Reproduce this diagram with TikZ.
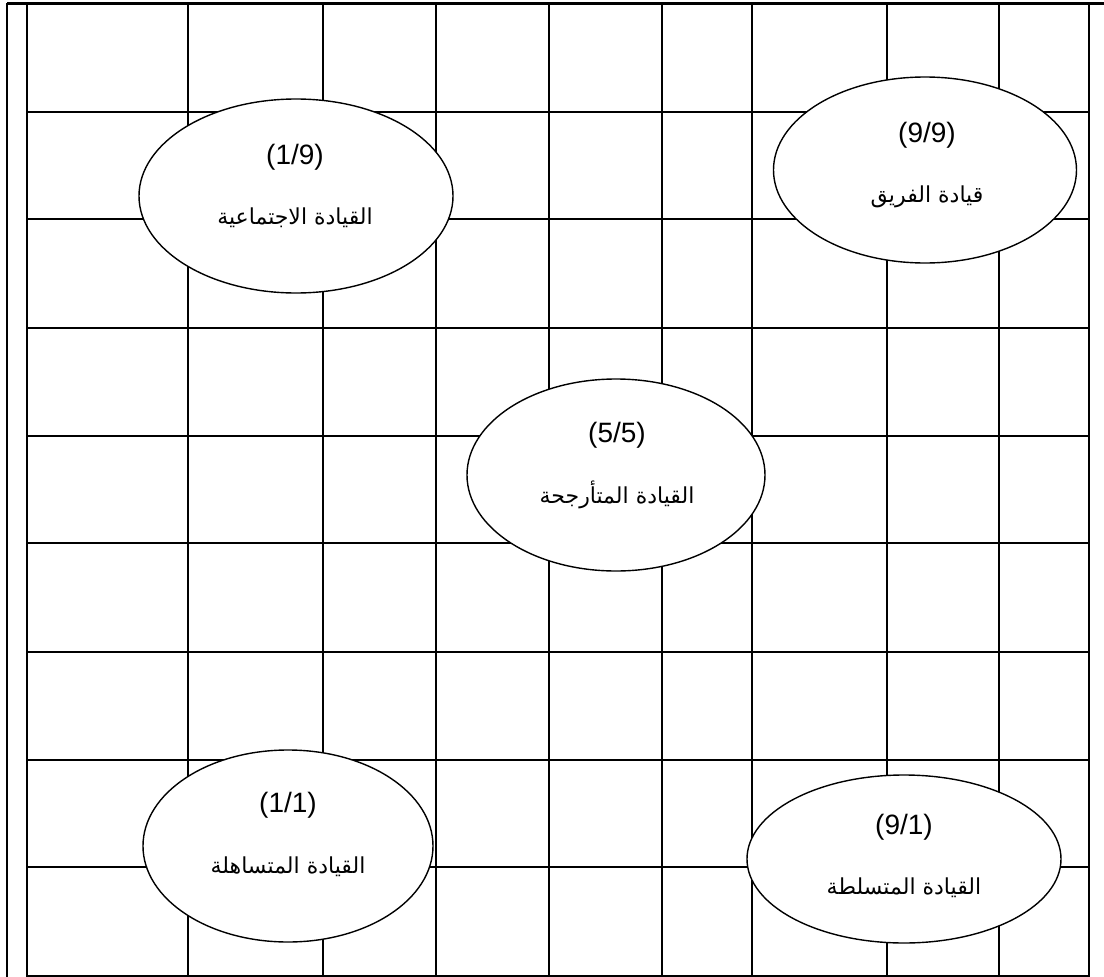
\documentclass[tikz,border=0pt]{standalone}
\usepackage{fontspec}
\setmainfont{Liberation Sans}
\newfontfamily\arabicfont[Script=Arabic]{DejaVu Sans}
\TeXXeTstate=1
\usetikzlibrary{shapes.geometric}
\begin{document}
\begin{tikzpicture}[x=1pt,y=-1pt,
  gridline/.style={line width=2.2pt},
  oval/.style={ellipse,draw,line width=1.4pt,fill=white,inner sep=0pt},
  numtext/.style={font=\fontsize{28}{32}\selectfont,inner sep=0pt},
  artext/.style={font=\fontsize{22}{26}\selectfont\arabicfont,inner sep=0pt}]
\useasboundingbox (0,0) rectangle (1104,977);
% frame
\draw[line width=3pt] (7,3) -- (1104,3);
\draw[gridline] (7,3) -- (7,977);
\draw[gridline] (27,3) -- (27,976) -- (1089,976) -- (1089,3);
% horizontal lines
\foreach \y in {112,219,328,436,543,652,760,867}
  \draw[gridline] (27,\y) -- (1089,\y);
% vertical lines
\foreach \x in {188,323,436,549,662,752,887,999}
  \draw[gridline] (\x,3) -- (\x,976);
% ellipses
\node[oval,minimum width=314pt,minimum height=194pt] (e19) at (296,196) {};
\node[oval,minimum width=303pt,minimum height=186pt] (e99) at (925,170) {};
\node[oval,minimum width=298pt,minimum height=192pt] (e55) at (616,475) {};
\node[oval,minimum width=290pt,minimum height=192pt] (e11) at (288,846) {};
\node[oval,minimum width=314pt,minimum height=168pt] (e91) at (904,859) {};
% texts
\node[numtext] (n19) at (295,157) {(1/9)};
\node[artext] (a19) at (295,218) {\beginR القيادة الاجتماعية\endR};
\node[numtext] (n99) at (927,135) {(9/9)};
\node[artext] (a99) at (927,197) {\beginR قيادة الفريق\endR};
\node[numtext] (n55) at (617,435) {(5/5)};
\node[artext] (a55) at (617,495) {\beginR القيادة المتأرجحة\endR};
\node[numtext] (n11) at (288,805) {(1/1)};
\node[artext] (a11) at (288,867) {\beginR القيادة المتساهلة\endR};
\node[numtext] (n91) at (904,827) {(9/1)};
\node[artext] (a91) at (904,888) {\beginR القيادة المتسلطة\endR};
\end{tikzpicture}
\end{document}
